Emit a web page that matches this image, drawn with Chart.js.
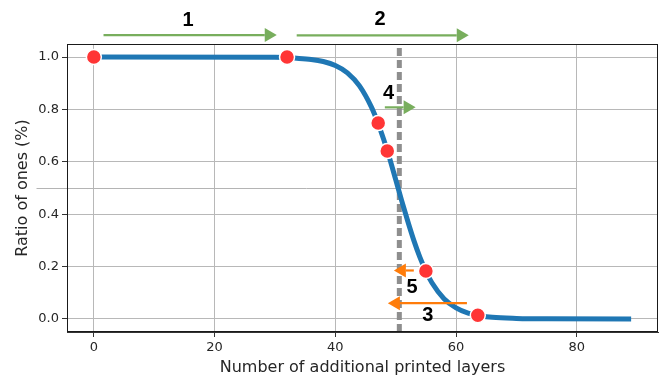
<!DOCTYPE html>
<html>
<head>
<meta charset="utf-8">
<script src="https://cdn.jsdelivr.net/npm/chart.js@4/dist/chart.umd.min.js"></script>
<style>
  html, body { margin: 0; padding: 0; background: #ffffff; }
  #wrap { width: 667px; height: 379px; }
</style>
</head>
<body>
<div id="wrap"><canvas id="chart" width="667" height="379"></canvas></div>
<script>
// Ratio of ones vs. number of additional printed layers
const layers = [0, 30, 34, 36, 38, 40, 42, 44, 46, 47, 48, 49, 50, 51, 52, 53, 54, 55, 56, 58, 60, 62, 64, 66, 70, 75, 89];
const ratio  = [1.0, 0.999, 0.995, 0.991, 0.983, 0.968, 0.94, 0.89, 0.808, 0.752, 0.686, 0.613, 0.532, 0.451, 0.373, 0.30, 0.236, 0.182, 0.138, 0.077, 0.042, 0.022, 0.012, 0.006, 0.002, 0.0005, 0.0];

// Sampled measurements (red markers)
const sampleLayers = [0, 32, 47.1, 48.6, 55.0, 63.6];
const sampleRatio  = [1.0, 1.0, 0.748, 0.641, 0.183, 0.014];

// Threshold marker and reference level
const thresholdLayer = 50.6;
const referenceLevel = 0.5;
const referenceFrom = -9.5;
const referenceTo = 80;

// Axis ticks
const xTicks = [0, 20, 40, 60, 80];
const yTicks = [0, 0.2, 0.4, 0.6, 0.8, 1.0];

// Step arrows and their labels
const stepLabels  = ['1', '2', '4', '5', '3'];
const arrowStart  = [1.6, 33.6, 48.2, 53.0, 61.8];
const arrowEnd    = [30.3, 62.1, 53.3, 49.7, 48.7];
const arrowLevel  = [1.084, 1.083, 0.808, 0.185, 0.060];
const arrowColor  = ['#78ae5d', '#78ae5d', '#78ae5d', '#ff7c0a', '#ff7c0a'];
const labelX      = [15.6, 47.4, 48.8, 52.7, 55.3];
const labelY      = [1.145, 1.148, 0.863, 0.124, 0.016];

const curvePoints = layers.map((x, i) => ({ x: x, y: ratio[i] }));
const samplePoints = sampleLayers.map((x, i) => ({ x: x, y: sampleRatio[i] }));

const overlay = {
  id: 'overlay',
  beforeDatasetsDraw(chart) {
    const { ctx, scales: { x, y } } = chart;
    ctx.save();
    ctx.strokeStyle = '#b4b4b4';
    ctx.lineWidth = 1;
    const py = Math.round(y.getPixelForValue(referenceLevel)) + 0.5;
    ctx.beginPath();
    ctx.moveTo(x.getPixelForValue(referenceFrom), py);
    ctx.lineTo(x.getPixelForValue(referenceTo), py);
    ctx.stroke();
    ctx.restore();
  },
  afterDatasetsDraw(chart) {
    const { ctx, chartArea: a, scales: { x, y } } = chart;
    ctx.save();
    // frame around the plot
    ctx.strokeStyle = '#1a1a1a';
    ctx.lineWidth = 1;
    ctx.strokeRect(Math.round(a.left) + 0.5, Math.round(a.top) + 0.5,
                   Math.round(a.right - a.left) - 1, Math.round(a.bottom - a.top) - 1);

    // arrows
    for (let i = 0; i < stepLabels.length; i++) {
      const x0 = x.getPixelForValue(arrowStart[i]);
      const x1 = x.getPixelForValue(arrowEnd[i]);
      const py = y.getPixelForValue(arrowLevel[i]);
      const dir = x1 > x0 ? 1 : -1;
      const headLen = 12, headHalf = 7;
      ctx.strokeStyle = arrowColor[i];
      ctx.fillStyle = arrowColor[i];
      ctx.lineWidth = 2.2;
      ctx.beginPath();
      ctx.moveTo(x0, py);
      ctx.lineTo(x1 - dir * headLen, py);
      ctx.stroke();
      ctx.beginPath();
      ctx.moveTo(x1, py);
      ctx.lineTo(x1 - dir * headLen, py - headHalf);
      ctx.lineTo(x1 - dir * headLen, py + headHalf);
      ctx.closePath();
      ctx.fill();
    }

    // step labels
    ctx.fillStyle = '#000000';
    ctx.font = 'bold 20px "Liberation Sans", Arial, sans-serif';
    ctx.textAlign = 'center';
    ctx.textBaseline = 'middle';
    for (let i = 0; i < stepLabels.length; i++) {
      ctx.fillText(stepLabels[i], x.getPixelForValue(labelX[i]), y.getPixelForValue(labelY[i]) + 1);
    }
    ctx.restore();
  }
};

const tickFont = { family: '"DejaVu Sans", sans-serif', size: 13 };
const titleFont = { family: '"DejaVu Sans", sans-serif', size: 16 };

new Chart(document.getElementById('chart'), {
  type: 'line',
  data: {
    datasets: [
      {
        type: 'scatter',
        data: samplePoints,
        backgroundColor: '#ff3535',
        borderColor: '#ffffff',
        borderWidth: 1.5,
        pointRadius: 7.5,
        showLine: false,
        order: 0
      },
      {
        data: curvePoints,
        borderColor: '#1f77b4',
        borderWidth: 5,
        pointRadius: 0,
        cubicInterpolationMode: 'monotone',
        fill: false,
        order: 1
      },
      {
        data: [{ x: thresholdLayer, y: -0.05 }, { x: thresholdLayer, y: 1.05 }],
        borderColor: '#8e8e8e',
        borderWidth: 5,
        borderDash: [8, 4],
        pointRadius: 0,
        fill: false,
        order: 2
      }
    ]
  },
  options: {
    responsive: false,
    animation: false,
    devicePixelRatio: 1,
    layout: { padding: { top: 44, right: 8, left: 0, bottom: 0 } },
    plugins: { legend: { display: false }, tooltip: { enabled: false } },
    scales: {
      x: {
        type: 'linear',
        min: -4.45,
        max: 93.45,
        afterBuildTicks: (s) => { s.ticks = xTicks.map(v => ({ value: v })); },
        afterFit: (s) => { s.height = 47; },
        ticks: { font: tickFont, color: '#262626', padding: 3, maxRotation: 0, callback: (v) => String(v) },
        grid: { color: '#b8b8b8', lineWidth: 1, tickLength: 5, tickColor: '#333333' },
        border: { color: '#333333', width: 1 },
        title: { display: true, text: 'Number of additional printed layers', font: titleFont, color: '#262626', padding: { top: 0, bottom: 2 } }
      },
      y: {
        type: 'linear',
        min: -0.05,
        max: 1.05,
        afterBuildTicks: (s) => { s.ticks = yTicks.map(v => ({ value: v })); },
        afterFit: (s) => { s.width = 67; },
        ticks: { font: tickFont, color: '#262626', padding: 3, callback: (v) => v.toFixed(1) },
        grid: { color: '#b8b8b8', lineWidth: 1, tickLength: 5, tickColor: '#333333' },
        border: { color: '#333333', width: 1 },
        title: { display: true, text: 'Ratio of ones (%)', font: titleFont, color: '#262626', padding: { top: 13, bottom: 0 } }
      }
    }
  },
  plugins: [overlay]
});
</script>
</body>
</html>
